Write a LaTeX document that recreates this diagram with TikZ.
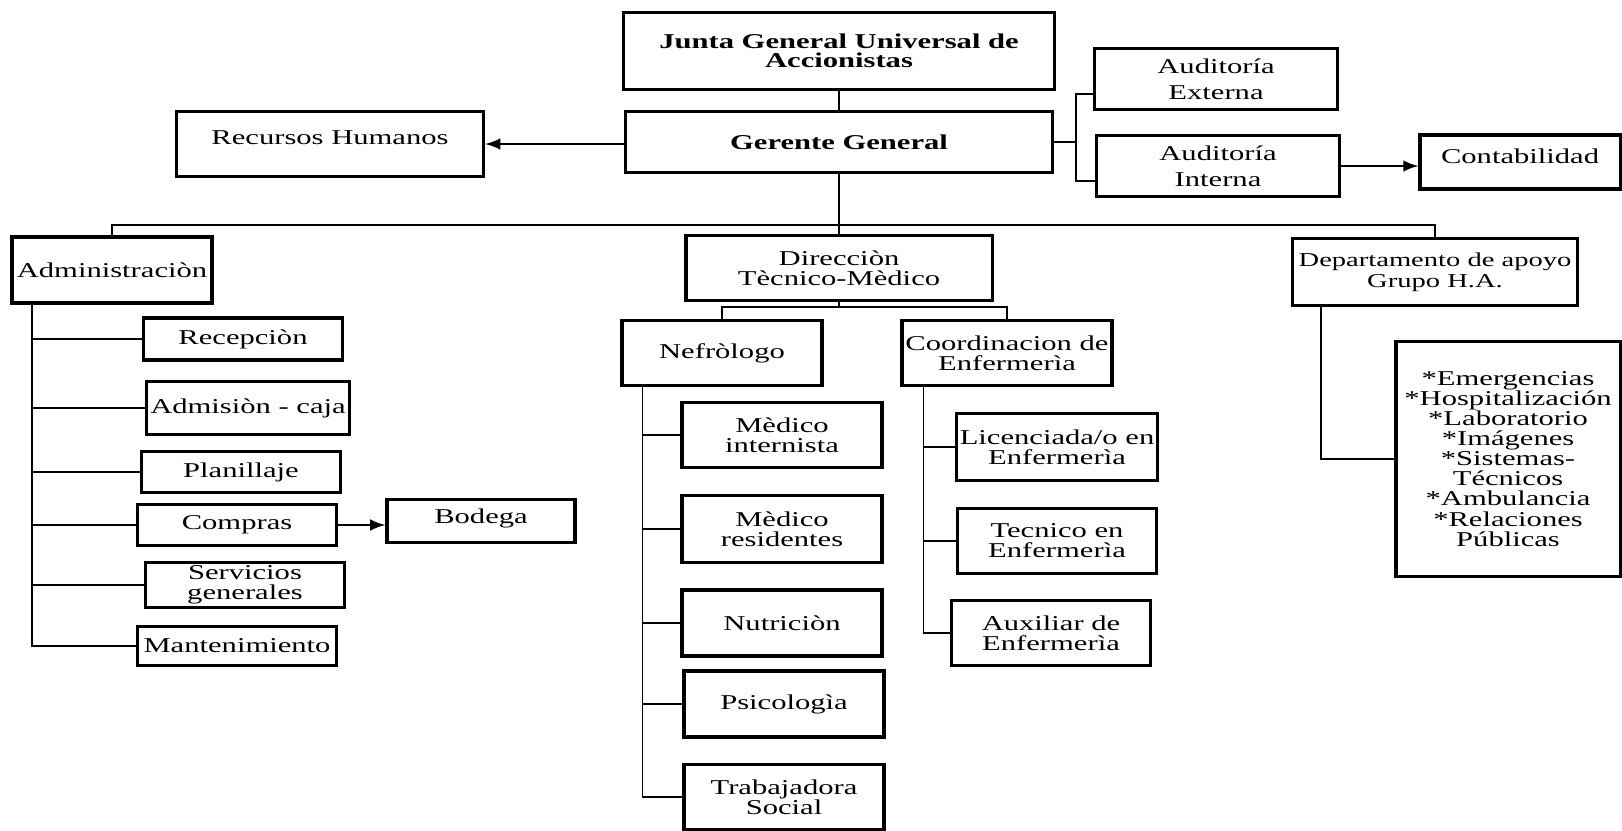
\documentclass[tikz,border=0pt]{standalone}
\usepackage{fontspec}
\setmainfont{Liberation Serif}[FakeStretch=1.45]
\usepackage{tikz}
\usetikzlibrary{calc}
\usetikzlibrary{arrows.meta}
\usetikzlibrary{positioning}
\tikzset{>=latex}
\tikzstyle{box} = [rectangle, draw, line width=0.9pt, align=center, inner sep=1pt, minimum width=2cm, minimum height=0.65cm, font=\fontsize{6}{5.7}\selectfont]
\tikzstyle{cn} = [-, line width=0.5pt]
\tikzstyle{arr} = [-latex, line width=0.5pt]

\begin{document}
\begin{tikzpicture}[x=0.01cm, y=-0.01cm]
\useasboundingbox (0,0) rectangle (1622,830);
%\node [draw=none, font=\small] at (800,0) {Organigrama};
\node [box, minimum width=4.3cm, minimum height=0.77cm, font=\fontsize{6}{5.4}\selectfont\bfseries] (JG) at (839, 51) {Junta General Universal de\\Accionistas};
\node [box, minimum width=4.27cm, minimum height=0.61cm, font=\fontsize{6}{5.7}\selectfont\bfseries] (GG) at (839, 142) {Gerente General};
\node [box, minimum width=3.07cm, text depth=0.12cm] (RH) at (330, 144) {Recursos Humanos};
\node [box, minimum width=2.43cm, minimum height=0.61cm, font=\fontsize{6}{7.3}\selectfont] (AE) at (1216, 79) {Auditoría\\Externa};
\node [box, minimum width=2.43cm, minimum height=0.61cm, font=\fontsize{6}{7.3}\selectfont] (AI) at (1218, 166) {Auditoría\\Interna};
\node [box, minimum height=0.54cm, text depth=0.12cm] (CT) at (1520, 162) {Contabilidad};

\node [box, minimum height=0.66cm] (AD) at (112, 270) {Administraciòn};
\node [box, minimum width=3.06cm] (DT) at (839, 268) {Direcciòn\\Tècnico-Mèdico};
\node [box, minimum width=2.85cm, minimum height=0.67cm, font=\fontsize{5.6}{5.9}\selectfont] (DA) at (1435, 272) {Departamento de apoyo\\Grupo H.A.};

% administracion
\node [box, minimum width=1.99cm, minimum height=0.42cm] (RC) at (243, 339) {Recepciòn};
\node [box, minimum width=1.96cm, minimum height=0.53cm] (AC) at (248, 408) {Admisiòn - caja};
\node [box, minimum width=1.99cm, minimum height=0.41cm] (PL) at (241, 472) {Planillaje};
\node [box, minimum width=1.99cm, minimum height=0.41cm] (CP) at (237, 525) {Compras};
\node [box, minimum width=1.88cm, minimum height=0.43cm, text depth=0.1cm] (BD) at (481, 521) {Bodega};
\node [box, minimum width=1.99cm, minimum height=0.43cm] (SG) at (245, 585) {Servicios\\generales};
\node [box, minimum width=1.99cm, minimum height=0.39cm] (MT) at (237, 646) {Mantenimiento};

% direccion tecnico-medico
\node [box] (NF) at (722, 353) {Nefròlogo};
\node [box] (CE) at (1007, 353) {Coordinacion de\\Enfermerìa};
\node [box] (MI) at (782, 435) {Mèdico\\internista};
\node [box, minimum height=0.67cm] (MR) at (782, 529) {Mèdico\\residentes};
\node [box, minimum height=0.66cm] (NU) at (782, 623) {Nutriciòn};
\node [box, minimum height=0.66cm] (PS) at (784, 704) {Psicologìa};
\node [box] (TS) at (784, 797) {Trabajadora\\Social};
\node [box, minimum width=1.99cm, minimum height=0.67cm] (LE) at (1057, 447) {Licenciada/o en\\Enfermerìa};
\node [box, minimum width=1.99cm] (TE) at (1057, 541) {Tecnico en\\Enfermerìa};
\node [box, minimum width=1.99cm] (AX) at (1051, 633) {Auxiliar de\\Enfermerìa};

% apoyo
\node [box, minimum width=2.24cm, minimum height=2.35cm] (LS) at (1508, 459) {*Emergencias\\*Hospitalización\\*Laboratorio\\*Imágenes\\*Sistemas-\\Técnicos\\*Ambulancia\\*Relaciones\\Públicas};

\coordinate (aud) at (1076, 142);
\coordinate (bus) at (839, 225);
\coordinate (dbus) at (839, 307);
\coordinate (adsp) at ([xshift=0.22cm]AD.south west);
\coordinate (nfsp) at ([xshift=0.22cm]NF.south west);
\coordinate (cesp) at ([xshift=0.23cm]CE.south west);
\coordinate (dasp) at ([xshift=0.3cm]DA.south west);

\draw [cn] (JG) to (GG);
\draw [arr] (GG.west |- RH) to (RH.east);
\draw [cn] (GG.east) to (aud);
\draw [cn] ([yshift=-0.15cm]AE.west) -| (aud) |- ([yshift=-0.15cm]AI.west);
\draw [arr] (AI.east) to (AI.east -| CT.west);

\draw [cn] (GG.south) to (bus);
\draw [cn] (AD.north) |- (bus) -| (DA.north);
\draw [cn] (bus) to (DT.north);

\foreach \n in {RC, AC, PL, CP, SG, MT}
  \draw [cn] (adsp) |- (\n.west);
\draw [arr] (CP.east) to (CP.east -| BD.west);

\draw [cn] (DT.south) to (dbus);
\draw [cn] (NF.north) |- (dbus) -| (CE.north);
\foreach \n in {MI, MR, NU, PS, TS}
  \draw [cn] (nfsp) |- (\n.west);
\foreach \n in {LE, TE, AX}
  \draw [cn] (cesp) |- (\n.west);

\draw [cn] (dasp) |- (LS.west);
\end{tikzpicture}
\end{document}
